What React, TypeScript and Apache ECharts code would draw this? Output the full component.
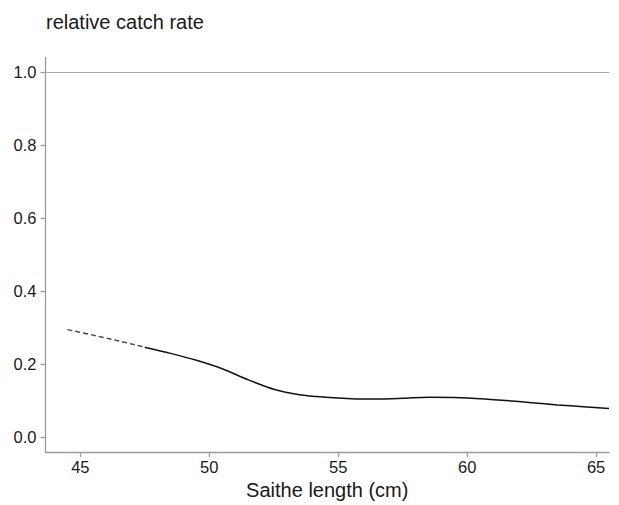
import React, { useEffect, useRef } from "react";
import * as echarts from "echarts";

const xTicks = [45, 50, 55, 60, 65];
const yTicks = [0, 0.2, 0.4, 0.6, 0.8, 1.0];

const dashedLength = [44.5, 45.5, 46.5, 47.5];
const dashedRate = [0.295, 0.280, 0.264, 0.247];

const solidLength = [47.5, 48.5, 49.5, 50.5, 51.5, 52.5, 53.5, 54.5, 55.5, 56.5, 57.5, 58.5, 59.5, 60.5, 61.5, 62.5, 63.5, 64.5, 65.5];
const solidRate = [0.247, 0.230, 0.211, 0.188, 0.158, 0.132, 0.117, 0.110, 0.106, 0.105, 0.107, 0.110, 0.109, 0.106, 0.101, 0.095, 0.089, 0.084, 0.079];

const referenceLevel = 1.0;

export default function App() {
  const ref = useRef<HTMLDivElement>(null);
  useEffect(() => {
    if (!ref.current) return;
    const chart = echarts.init(ref.current, null, { renderer: "svg" });
    const font = "'Liberation Sans', Arial, sans-serif";
    const axisColor = "#9a9a9a";
    chart.setOption({
      animation: false,
      backgroundColor: "#ffffff",
      title: {
        text: "relative catch rate",
        left: 41,
        top: 7,
        textStyle: { fontSize: 20, fontWeight: "normal", color: "#1a1a1a", fontFamily: font },
      },
      grid: { left: 45.5, right: 10, top: 57.5, bottom: 53, containLabel: false },
      xAxis: {
        type: "value",
        min: 43.65,
        max: 65.5,
        name: "Saithe length (cm)",
        nameLocation: "middle",
        nameGap: 27,
        nameTextStyle: { fontSize: 20, color: "#1a1a1a", fontFamily: font },
        axisLine: { show: true, onZero: false, lineStyle: { color: axisColor, width: 1.3 } },
        axisTick: { show: true, length: 5, customValues: xTicks, lineStyle: { color: axisColor, width: 1.3 } },
        axisLabel: { customValues: xTicks, margin: 6, fontSize: 16.5, color: "#1a1a1a", fontFamily: font },
        splitLine: { show: false },
      },
      yAxis: {
        type: "value",
        min: -0.04,
        max: 1.04,
        axisLine: { show: true, onZero: false, lineStyle: { color: axisColor, width: 1.3 } },
        axisTick: { show: true, length: 5, customValues: yTicks, lineStyle: { color: axisColor, width: 1.3 } },
        axisLabel: {
          customValues: yTicks,
          margin: 9,
          fontSize: 16.5,
          color: "#1a1a1a",
          fontFamily: font,
          formatter: (v: number) => v.toFixed(1),
        },
        splitLine: { show: false },
      },
      series: [
        {
          type: "line",
          data: dashedLength.map((x, i) => [x, dashedRate[i]]),
          showSymbol: false,
          lineStyle: { color: "#444444", width: 1.4, type: [5, 3] },
          markLine: {
            silent: true,
            symbol: "none",
            label: { show: false },
            lineStyle: { color: "#a8a8a8", width: 1.2, type: "solid" },
            data: [{ yAxis: referenceLevel }],
          },
        },
        {
          type: "line",
          data: solidLength.map((x, i) => [x, solidRate[i]]),
          showSymbol: false,
          smooth: 0.3,
          lineStyle: { color: "#111111", width: 1.5 },
        },
      ],
    });
    return () => chart.dispose();
  }, []);
  return (
    <div
      ref={ref}
      style={{ position: "fixed", left: 0, top: 0, width: 619, height: 505 }}
    />
  );
}
